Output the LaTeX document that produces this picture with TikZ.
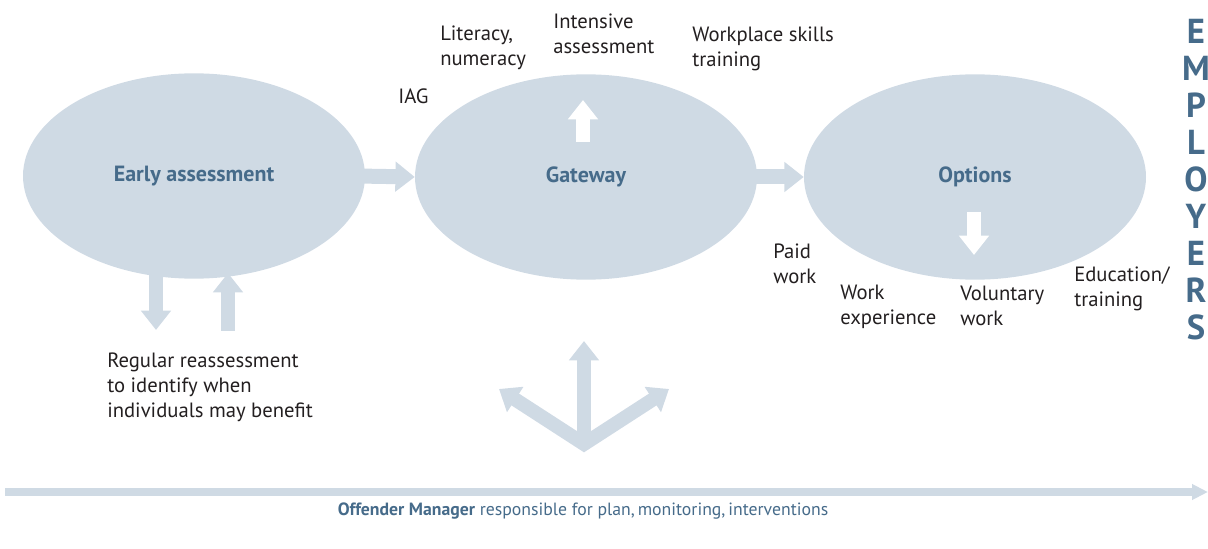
\documentclass[tikz,border=0pt]{standalone}
\usepackage{fontspec}
\setmainfont{PT Sans}
\usetikzlibrary{arrows.meta,shapes.geometric}
\definecolor{pale}{RGB}{207,218,228}
\definecolor{ink}{RGB}{70,107,138}
\definecolor{txt}{RGB}{35,31,32}
\tikzset{
  blob/.style={ellipse, fill=pale, minimum width=256.5pt, minimum height=154pt, inner sep=0pt,
    text=ink, font=\fontsize{16.5}{19}\selectfont\bfseries},
  fat/.style={draw=pale, line width=10.5pt, -{Triangle[width=21.75pt,length=14.5pt]}},
  fatw/.style={fat, draw=white, -{Triangle[width=21.75pt,length=14.5pt,fill=white]}},
  lbl/.style={anchor=west, align=left, inner sep=0pt, text=txt,
    font=\fontsize{15.5}{18.75}\selectfont},
}
\begin{document}
\begin{tikzpicture}[x=0.75pt,y=-0.75pt]
\useasboundingbox (0,0) rectangle (1208,549);
% ellipses
\node[blob] (e1) at (194,176) {Early assessment};
\node[blob] (e2) at (586,177) {Gateway};
\node[blob] (e3) at (975,177) {Options};
% connectors between ellipses
\draw[fat, line width=11.25pt] ([xshift=-6pt]e1.east) -- (e2.west);
\draw[fat, line width=11.25pt] ([xshift=-6pt]e2.east) -- (e3.west);
% white arrows inside
\coordinate (gb) at (583,142); \coordinate (gt) at (583,100);
\draw[fatw] (gb) -- (gt);
\coordinate (ot) at (974,212); \coordinate (ob) at (974,255);
\draw[fatw] (ot) -- (ob);
% reassessment arrows
\coordinate (d1) at (156,268); \coordinate (d2) at (156,330);
\draw[fat] (d1) -- (d2);
\coordinate (u1) at (228,331); \coordinate (u2) at (228,273);
\draw[fat] (u1) -- (u2);
% three-way arrow
\coordinate (v) at (584,444);
\coordinate (tl) at (499,389); \coordinate (tr) at (669,389); \coordinate (tt) at (584,341);
\draw[fat] (v) -- (tt);
\draw[fat, line join=miter, {Triangle[width=21.75pt,length=14.5pt]}-{Triangle[width=21.75pt,length=14.5pt]}] (tl) -- (v) -- (tr);
% bottom arrow
\coordinate (b1) at (5,492); \coordinate (b2) at (1208,492);
\draw[draw=pale, line width=6pt, -{Triangle[width=11.25pt,length=12pt]}] (b1) -- (b2);
\node[inner sep=0pt, font=\fontsize{13.3}{15}\selectfont, text=ink] (om) at (583,511)
  {\textbf{Offender Manager} responsible for plan,\,monitoring,\,interventions};
% labels
\node[lbl] (lit) at (440,48) {Literacy,\\numeracy};
\node[lbl] (int) at (553,34) {Intensive\\assessment};
\node[lbl] (wps) at (692,49) {Workplace skills\\training};
\node[lbl] (iag) at (398,96) {IAG};
\node[lbl] (paid) at (773,264) {Paid\\work};
\node[lbl] (wex) at (840,307) {Work\\experience};
\node[lbl] (vol) at (960,306) {Voluntary\\work};
\node[lbl] (edu) at (1074,289) {Education/\\training};
\node[lbl] (reg) at (107,387) {Regular reassessment\\to identify when\\individuals may benefit};
% employers
\node[text=ink, font=\fontsize{26}{27.75}\selectfont\bfseries, align=center, inner sep=0pt] (emp) at (1196,180)
  {E\\M\\P\\L\\O\\Y\\E\\R\\S};
\end{tikzpicture}
\end{document}
